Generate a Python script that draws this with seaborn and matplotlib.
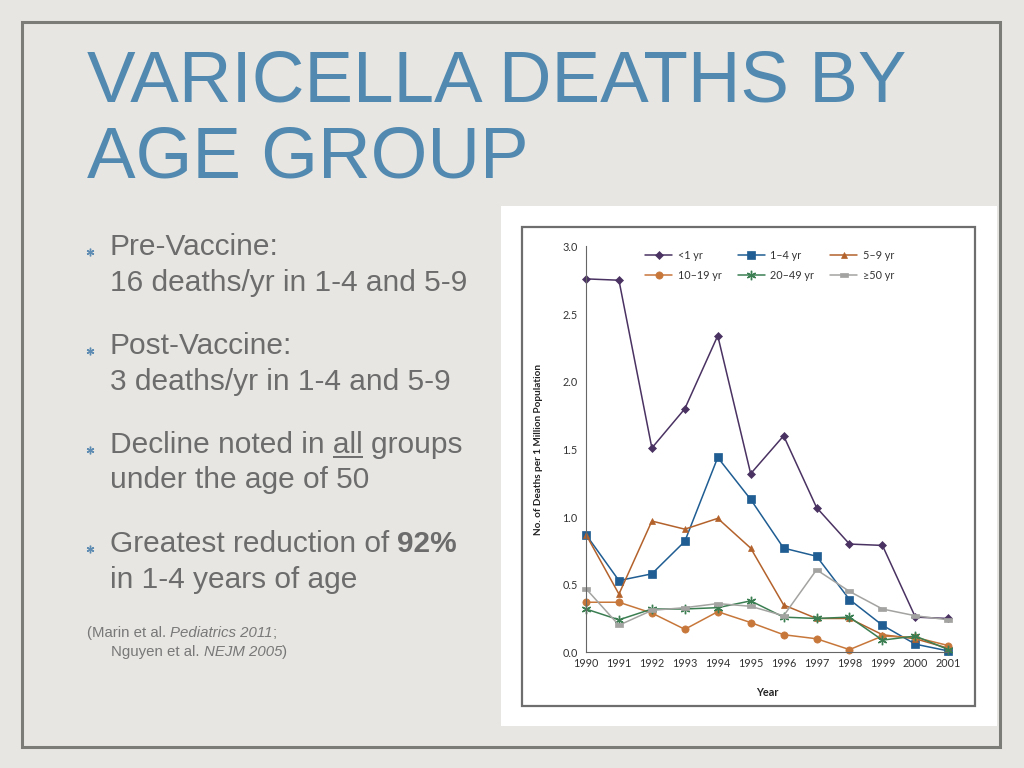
import numpy as np
import pandas as pd
import matplotlib
matplotlib.use("Agg")
import matplotlib.pyplot as plt
import seaborn as sns
from matplotlib.patches import Rectangle
from matplotlib.path import Path

# ---------------- data ----------------
years = list(range(1990, 2002))
groups = ["<1 yr", "1–4 yr", "5–9 yr", "10–19 yr", "20–49 yr", "≥50 yr"]
lt1 = [2.76, 2.75, 1.51, 1.80, 2.34, 1.32, 1.60, 1.07, 0.80, 0.79, 0.26, 0.25]
y1_4 = [0.87, 0.53, 0.58, 0.82, 1.44, 1.13, 0.77, 0.71, 0.39, 0.20, 0.06, 0.01]
y5_9 = [0.87, 0.43, 0.97, 0.91, 0.99, 0.77, 0.35, 0.25, 0.25, 0.13, 0.10, 0.03]
y10_19 = [0.37, 0.37, 0.29, 0.17, 0.30, 0.22, 0.13, 0.10, 0.02, 0.12, 0.11, 0.05]
y20_49 = [0.32, 0.24, 0.32, 0.32, 0.33, 0.38, 0.26, 0.25, 0.26, 0.09, 0.12, 0.02]
y50 = [0.47, 0.20, 0.31, 0.33, 0.36, 0.34, 0.27, 0.61, 0.45, 0.32, 0.27, 0.24]
series = [lt1, y1_4, y5_9, y10_19, y20_49, y50]
ytick_vals = [0.0, 0.5, 1.0, 1.5, 2.0, 2.5, 3.0]

title_lines = ["VARICELLA DEATHS BY", "AGE GROUP"]

df = pd.DataFrame({
    "Year": np.tile(years, len(groups)),
    "Rate": np.concatenate(series),
    "Group": np.repeat(groups, len(years)),
})

colors = {
    "<1 yr": "#4a3262",
    "1–4 yr": "#1f5d92",
    "5–9 yr": "#b3622c",
    "10–19 yr": "#c7773a",
    "20–49 yr": "#3b7e52",
    "≥50 yr": "#a3a3a1",
}
rect_marker = Path([(-1, -0.45), (1, -0.45), (1, 0.45), (-1, 0.45), (-1, -0.45)],
                   [Path.MOVETO, Path.LINETO, Path.LINETO, Path.LINETO, Path.CLOSEPOLY])
marker_spec = {
    "<1 yr": ("D", 3.6),
    "1–4 yr": ("s", 5.2),
    "5–9 yr": ("^", 5.0),
    "10–19 yr": ("o", 5.2),
    "20–49 yr": ((6, 2, 0), 6.8),
    "≥50 yr": (rect_marker, 6.0),
}

# ---------------- figure ----------------
sns.set_style("white")
plt.rcParams["font.family"] = ["Liberation Sans", "DejaVu Sans"]

fig = plt.figure(figsize=(10.24, 7.68), dpi=100)
fig.patch.set_facecolor("#e7e6e2")

bg = fig.add_axes([0, 0, 1, 1], zorder=0)
bg.set_xlim(0, 1024)
bg.set_ylim(768, 0)
bg.axis("off")

# slide frame
bg.add_patch(Rectangle((22, 22), 978, 725, fill=False, edgecolor="#7b7b78", linewidth=2.2))

# title
title_color = "#5289b0"
for txt, yb in zip(title_lines, [101, 178]):
    bg.text(87, yb, txt, fontsize=52.5, color=title_color, va="baseline", ha="left")

renderer = fig.canvas.get_renderer()


def text_w(s, **kw):
    t = bg.text(0, 0, s, **kw)
    w = t.get_window_extent(renderer).width
    t.remove()
    return w


body_color = "#6c6c6c"
body_fs = 21.5
body_kw = dict(fontsize=body_fs, color=body_color, va="baseline", ha="left")
bullets = [
    ("Pre-Vaccine:", "16 deaths/yr in 1-4 and 5-9", 255, 291),
    ("Post-Vaccine:", "3 deaths/yr in 1-4 and 5-9", 354, 390),
    ("Decline noted in all groups", "under the age of 50", 453, 488),
    ("Greatest reduction of", "in 1-4 years of age", 552, 588),
]
tx = 110
for l1, l2, b1, b2 in bullets:
    bg.plot([90], [b1 - 3.5], marker=(6, 2, 0), markersize=5.5, color="#5f8cb2",
            markeredgewidth=1.0, linestyle="none")
    bg.text(tx, b1, l1, **body_kw)
    bg.text(tx, b2, l2, **body_kw)

# underline "all"
w_full = text_w("Decline noted in all", fontsize=body_fs)
w_all = text_w("all", fontsize=body_fs)
bg.plot([tx + w_full - w_all, tx + w_full], [457, 457], color=body_color, lw=1.4,
        solid_capstyle="butt")

# bold 92%
w_g = text_w("Greatest reduction of", fontsize=body_fs)
w_sp = text_w("a a", fontsize=body_fs) - text_w("aa", fontsize=body_fs)
bg.text(tx + w_g + w_sp, 552, "92%", fontsize=body_fs, color=body_color, fontweight="bold",
        va="baseline", ha="left")

# citation
cit_fs = 10.8
cit_kw = dict(fontsize=cit_fs, color="#787878", va="baseline", ha="left")
s1 = "(Marin et al."
bg.text(87, 637, s1, **cit_kw)
sp_c = text_w("a a", fontsize=cit_fs) - text_w("aa", fontsize=cit_fs)
x1 = 87 + text_w(s1, fontsize=cit_fs) + sp_c
bg.text(x1, 637, "Pediatrics 2011", style="italic", **cit_kw)
x1b = x1 + text_w("Pediatrics 2011", fontsize=cit_fs, style="italic")
bg.text(x1b, 637, ";", **cit_kw)
s2 = "Nguyen et al."
bg.text(111, 656, s2, **cit_kw)
x2 = 111 + text_w(s2, fontsize=cit_fs) + sp_c
bg.text(x2, 656, "NEJM 2005", style="italic", **cit_kw)
x2b = x2 + text_w("NEJM 2005", fontsize=cit_fs, style="italic")
bg.text(x2b, 656, ")", **cit_kw)

# chart panel
bg.add_patch(Rectangle((501, 206), 496, 520, facecolor="white", edgecolor="none"))
bg.add_patch(Rectangle((522, 227), 453, 479, fill=False, edgecolor="#6e6e6e", linewidth=1.6))

# ---------------- chart axes ----------------
ax = fig.add_axes([586 / 1024, (768 - 652.3) / 768, 362.3 / 1024, 405.9 / 768], zorder=2)
ax.patch.set_alpha(0)

sns.lineplot(data=df, x="Year", y="Rate", hue="Group", hue_order=groups,
             palette=colors, ax=ax, legend=False, linewidth=1.1,
             marker="o", estimator=None, sort=False)

for line, g in zip(ax.lines, groups):
    m, ms = marker_spec[g]
    line.set_marker(m)
    line.set_markersize(ms)
    line.set_color(colors[g])
    line.set_markerfacecolor(colors[g])
    line.set_markeredgecolor(colors[g])
    line.set_markeredgewidth(1.0 if g == "20–49 yr" else 0.5)
    line.set_clip_on(False)

chart_font = ["Lato", "DejaVu Sans"]
tick_color = "#333333"
ax.set_xlim(1990, 2001)
ax.set_ylim(0, 3.0)
ax.set_xticks(years)
ax.set_xticklabels([str(y) for y in years], fontsize=7.8, family=chart_font, color=tick_color)
ax.set_yticks(ytick_vals)
ax.set_yticklabels([f"{v:.1f}" for v in ytick_vals], fontsize=7.8, family=chart_font,
                   color=tick_color)
ax.tick_params(axis="x", length=0, pad=4)
ax.tick_params(axis="y", length=5, width=0.7, color="#666666", pad=1, direction="out")
for side in ["top", "right"]:
    ax.spines[side].set_visible(False)
for side in ["left", "bottom"]:
    ax.spines[side].set_color("#666666")
    ax.spines[side].set_linewidth(0.8)
ax.grid(False)

ax.set_xlabel("Year", fontsize=7.8, fontweight="bold", family=chart_font, color="#222222")
ax.set_ylabel("No. of Deaths per 1 Million Population", fontsize=7.2, fontweight="bold",
              family=chart_font, color="#222222")
ax.xaxis.set_label_coords(0.5, -0.0855)
ax.yaxis.set_label_coords(-0.119, 0.5)

# legend: rows <1,1-4,5-9 / 10-19,20-49,>=50  -> column-major order
order = [0, 3, 1, 4, 2, 5]
handles = [ax.lines[i] for i in order]
labels = [groups[i] for i in order]
leg = ax.legend(handles, labels, ncol=3, loc="upper left", frameon=False,
                bbox_to_anchor=(645, 250), bbox_transform=bg.transData,
                prop={"family": chart_font, "size": 7.8}, handlelength=2.5,
                handletextpad=0.5, columnspacing=1.5, labelspacing=0.8,
                borderpad=0, borderaxespad=0)
for t in leg.get_texts():
    t.set_color("#333333")

fig.savefig("out.png", dpi=100, facecolor=fig.get_facecolor())
